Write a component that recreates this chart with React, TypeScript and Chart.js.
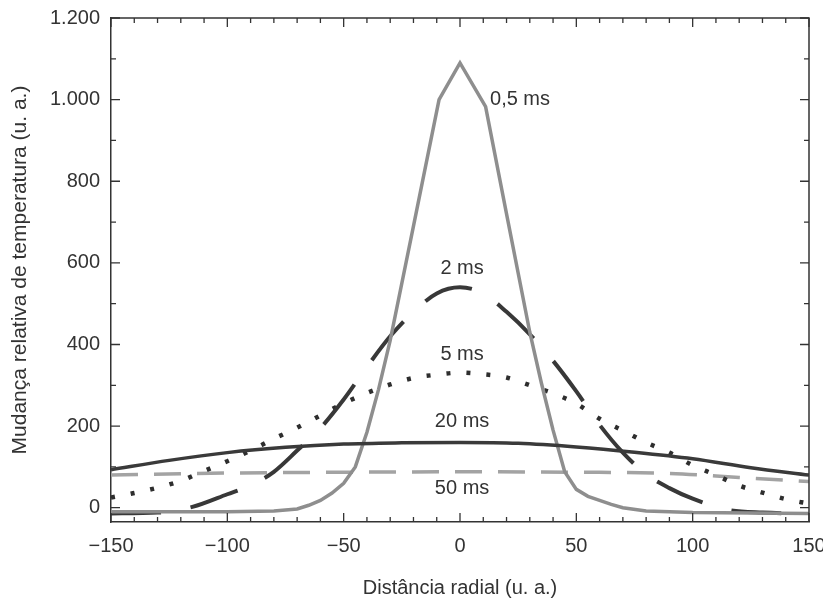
import React, { useEffect, useRef } from 'react';
import { Chart, registerables } from 'chart.js';

Chart.register(...registerables);

// ---- axis ticks ----
const X_TICKS = [-150, -100, -50, 0, 50, 100, 150];
const Y_TICKS = [0, 200, 400, 600, 800, 1000, 1200];

// ---- series: 0,5 ms ----
const X_05MS = [-150, -100, -80, -70, -65, -60, -55, -50, -45, -40, -35, -30, -20, -9, 0, 11, 20, 30, 35, 40, 45, 50, 55, 60, 65, 70, 80, 100, 150];
const Y_05MS = [-10, -10, -8, -3, 6, 18, 36, 60, 100, 185, 290, 410, 690, 1000, 1090, 983, 720, 430, 305, 190, 88, 45, 28, 18, 8, 0, -8, -12, -14];

// ---- series: 2 ms ----
const X_2MS = [-150, -130, -115, -100, -90, -80, -70, -60, -50, -40, -30, -20, -10, 0, 10, 20, 30, 40, 50, 60, 70, 80, 90, 100, 115, 130, 150];
const Y_2MS = [-14, -12, 2, 33, 55, 88, 140, 195, 265, 345, 420, 480, 525, 540, 525, 480, 425, 360, 285, 203, 135, 82, 48, 22, -5, -12, -14];

// ---- series: 5 ms ----
const X_5MS = [-150, -140, -130, -120, -110, -100, -90, -80, -70, -60, -50, -40, -30, -20, -10, 0, 10, 20, 30, 40, 50, 60, 70, 80, 90, 100, 110, 120, 130, 140, 150];
const Y_5MS = [25, 36, 49, 66, 90, 114, 140, 169, 196, 226, 256, 281, 302, 318, 326, 331, 327, 319, 300, 280, 255, 218, 189, 160, 135, 104, 80, 54, 37, 21, 10];

// ---- series: 20 ms ----
const X_20MS = [-150, -125, -100, -75, -50, -25, 0, 25, 50, 75, 100, 125, 150];
const Y_20MS = [93, 116, 135, 148, 156, 159, 160, 158, 149, 136, 120, 98, 80];

// ---- series: 50 ms ----
const X_50MS = [-150, -100, -50, 0, 50, 90, 120, 150];
const Y_50MS = [80, 85, 87, 88, 87, 84, 74, 64];

// ---- curve labels (anchored in data units) ----
const CURVE_LABELS = ['0,5 ms', '2 ms', '5 ms', '20 ms', '50 ms'];
const LABEL_AT_X = [12.9, 0.9, 0.9, 0.9, 0.9];
const LABEL_AT_Y = [1001, 585, 375, 211, 47];

const X_TITLE = 'Distância radial (u. a.)';
const Y_TITLE = 'Mudança relativa de temperatura (u. a.)';

const TEXT = '#333333';
const FONT = '"Liberation Sans", Arial, Helvetica, sans-serif';

const pts = (xs: number[], ys: number[]) => xs.map((x, i) => ({ x, y: ys[i] }));

const fmtX = (v: number) => (v < 0 ? '\u2212' + Math.abs(v) : String(v));
const fmtY = (v: number) => String(v).replace(/\B(?=(\d{3})+(?!\d))/g, '.');

const framePlugin = {
  id: 'frameTicks',
  afterDatasetsDraw(chart: any) {
    const { ctx, chartArea: a, scales } = chart;
    const x = scales.x;
    const y = scales.y;
    ctx.save();
    ctx.strokeStyle = '#333333';
    ctx.lineWidth = 1.5;
    ctx.beginPath();
    ctx.moveTo(a.left, a.top);
    ctx.lineTo(a.right, a.top);
    ctx.lineTo(a.right, a.bottom);
    ctx.stroke();

    ctx.lineWidth = 1.3;
    ctx.beginPath();
    const x0 = Math.ceil(x.min / 10);
    const x1 = Math.floor(x.max / 10);
    for (let k = x0; k <= x1; k++) {
      const v = k * 10;
      const px = x.getPixelForValue(v);
      const len = v % 50 === 0 ? 9 : 5;
      ctx.moveTo(px, a.bottom);
      ctx.lineTo(px, a.bottom - len);
      ctx.moveTo(px, a.top);
      ctx.lineTo(px, a.top + len);
    }
    const y0 = Math.max(0, Math.ceil(y.min / 100));
    const y1 = Math.floor(y.max / 100);
    for (let k = y0; k <= y1; k++) {
      const v = k * 100;
      const py = y.getPixelForValue(v);
      const len = v % 200 === 0 ? 9 : 5;
      ctx.moveTo(a.left, py);
      ctx.lineTo(a.left + len, py);
      ctx.moveTo(a.right, py);
      ctx.lineTo(a.right - len, py);
    }
    ctx.stroke();

    ctx.fillStyle = TEXT;
    ctx.font = '20px ' + FONT;
    ctx.textBaseline = 'middle';
    CURVE_LABELS.forEach((t, i) => {
      ctx.textAlign = i === 0 ? 'left' : 'center';
      ctx.fillText(t, x.getPixelForValue(LABEL_AT_X[i]), y.getPixelForValue(LABEL_AT_Y[i]));
    });
    ctx.restore();
  },
};

export default function App() {
  const ref = useRef<HTMLCanvasElement | null>(null);

  useEffect(() => {
    if (!ref.current) return;
    Chart.defaults.font.family = FONT;
    Chart.defaults.color = TEXT;

    const base = { pointRadius: 0, pointHoverRadius: 0, fill: false, borderCapStyle: 'butt' as const };

    const chart = new Chart(ref.current, {
      type: 'line',
      data: {
        datasets: [
          { ...base, label: '20 ms', data: pts(X_20MS, Y_20MS), borderColor: '#3a3a3a', borderWidth: 3.5, cubicInterpolationMode: 'monotone' },
          { ...base, label: '0,5 ms', data: pts(X_05MS, Y_05MS), borderColor: '#8e8e8e', borderWidth: 3.5, tension: 0 },
          { ...base, label: '2 ms', data: pts(X_2MS, Y_2MS), borderColor: '#383838', borderWidth: 4, borderDash: [50, 30], cubicInterpolationMode: 'monotone' },
          { ...base, label: '5 ms', data: pts(X_5MS, Y_5MS), borderColor: '#2e2e2e', borderWidth: 4.5, borderDash: [4, 16], cubicInterpolationMode: 'monotone' },
          { ...base, label: '50 ms', data: pts(X_50MS, Y_50MS), borderColor: '#a3a3a3', borderWidth: 3.5, borderDash: [27, 16], cubicInterpolationMode: 'monotone' },
        ],
      },
      options: {
        responsive: false,
        animation: false,
        events: [],
        layout: { padding: { top: 18, right: 14, left: 0, bottom: 0 } },
        plugins: { legend: { display: false }, tooltip: { enabled: false } },
        scales: {
          x: {
            type: 'linear',
            min: -150,
            max: 150,
            afterBuildTicks: (s: any) => { s.ticks = X_TICKS.map((v) => ({ value: v })); },
            afterFit: (s: any) => { s.height = 80; s.paddingLeft = 0; s.paddingRight = 0; },
            grid: { display: false, drawTicks: false },
            border: { display: true, color: '#333333', width: 1.5 },
            ticks: { padding: 12, autoSkip: false, maxRotation: 0, color: TEXT, font: { size: 20 }, callback: (v: any) => fmtX(Number(v)) },
            title: { display: true, text: X_TITLE, color: TEXT, font: { size: 20 }, padding: { top: 0, bottom: 2 } },
          },
          y: {
            type: 'linear',
            min: -35,
            max: 1200,
            afterBuildTicks: (s: any) => { s.ticks = Y_TICKS.map((v) => ({ value: v })); },
            afterFit: (s: any) => { s.width = 111; s.paddingTop = 0; s.paddingBottom = 0; },
            grid: { display: false, drawTicks: false },
            border: { display: true, color: '#333333', width: 1.5 },
            ticks: { padding: 11, autoSkip: false, color: TEXT, font: { size: 20 }, callback: (v: any) => fmtY(Number(v)) },
            title: { display: true, text: Y_TITLE, color: TEXT, font: { size: 21 }, padding: { top: 8, bottom: 0 } },
          },
        },
      },
      plugins: [framePlugin],
    } as any);

    return () => chart.destroy();
  }, []);

  return (
    <div style={{ position: 'absolute', left: 0, top: 0, width: 823, height: 602, background: '#ffffff' }}>
      <canvas ref={ref} width={823} height={602} style={{ display: 'block' }} />
    </div>
  );
}
